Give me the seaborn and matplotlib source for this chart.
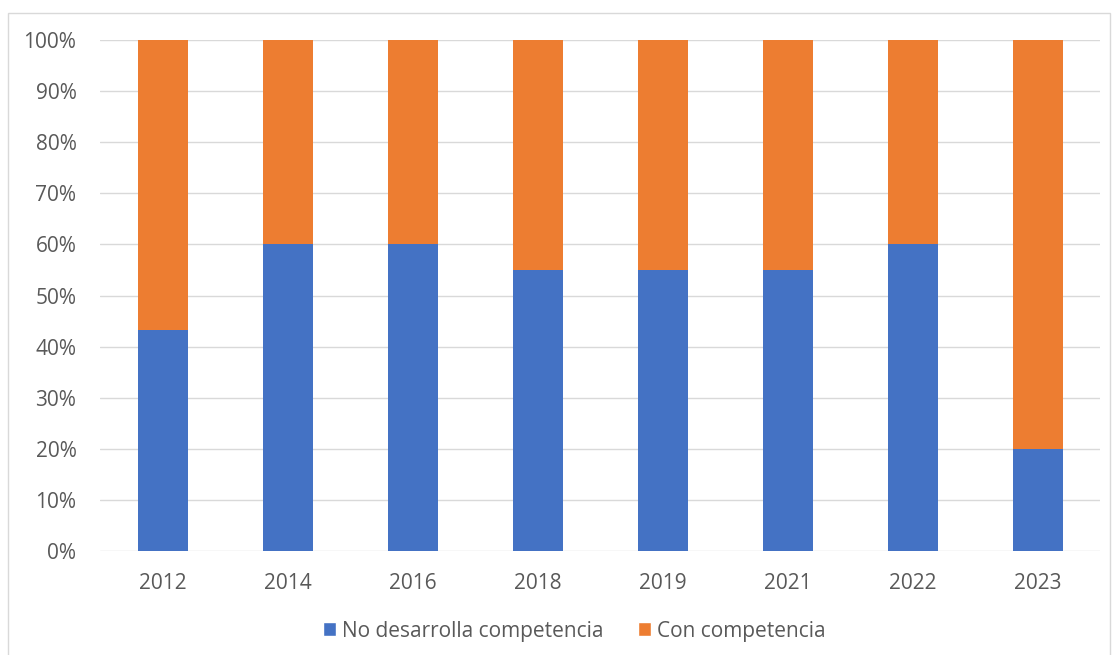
import matplotlib
matplotlib.use("Agg")
import matplotlib.pyplot as plt
from matplotlib.patches import Rectangle, Patch
from matplotlib.ticker import FuncFormatter
import seaborn as sns
import pandas as pd

years = ["2012", "2014", "2016", "2018", "2019", "2021", "2022", "2023"]
no_desarrolla = [43.33, 60, 60, 55, 55, 55, 60, 20]
con_competencia = [56.67, 40, 40, 45, 45, 45, 40, 80]

blue = "#4472C4"
orange = "#ED7D31"
text_gray = "#595959"
grid_gray = "#D9D9D9"

df = pd.DataFrame({
    "year": years,
    "no": no_desarrolla,
    "con": con_competencia,
})
df["total"] = df["no"] + df["con"]

sns.set_theme(style="white")
plt.rcParams["font.family"] = ["Open Sans", "DejaVu Sans"]

fig = plt.figure(figsize=(11.18, 6.55), dpi=100)
ax = fig.add_axes([100 / 1118, 1 - 551 / 655, 1000 / 1118, 511 / 655])

# stacked bars: full-height orange first, blue share drawn over it
sns.barplot(data=df, x="year", y="total", color=orange, width=0.4,
            saturation=1, edgecolor="none", ax=ax, zorder=3)
sns.barplot(data=df, x="year", y="no", color=blue, width=0.4,
            saturation=1, edgecolor="none", ax=ax, zorder=4)

ax.set_ylim(0, 100)
ax.set_xlim(-0.5, len(years) - 0.5)
ax.set_yticks(range(0, 101, 10))
ax.yaxis.set_major_formatter(FuncFormatter(lambda v, _: f"{int(v)}%"))
ax.grid(axis="y", color=grid_gray, linewidth=1, zorder=0)
ax.grid(axis="x", visible=False)
ax.set_xlabel("")
ax.set_ylabel("")
for s in ax.spines.values():
    s.set_visible(False)
ax.tick_params(axis="both", length=0, labelsize=15, labelcolor=text_gray)
ax.tick_params(axis="y", pad=17)
ax.tick_params(axis="x", pad=16)

handles = [Patch(facecolor=blue, label="No desarrolla competencia"),
           Patch(facecolor=orange, label="Con competencia")]
fig.legend(handles=handles, loc="center", bbox_to_anchor=(574 / 1118, 1 - 631 / 655),
           ncol=2, frameon=False, fontsize=15, handlelength=0.62, handleheight=0.62,
           handletextpad=0.3, columnspacing=1.65, labelcolor=text_gray)

# chart frame
fig.patches.append(Rectangle((8 / 1118, -0.01), 1102 / 1118, 1 - 13 / 655 + 0.01,
                             transform=fig.transFigure, fill=False,
                             edgecolor=grid_gray, linewidth=1))

fig.savefig("out.png", dpi=100)
